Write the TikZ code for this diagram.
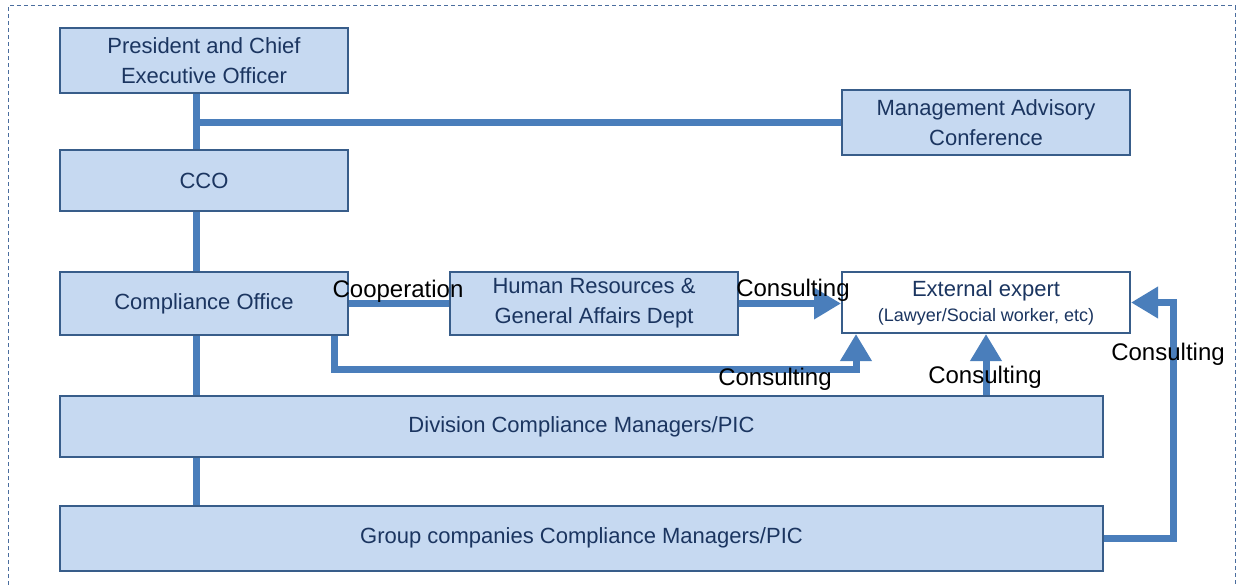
\documentclass[tikz,border=0pt]{standalone}
\usepackage{fontspec}
\setmainfont{Liberation Sans}
\usetikzlibrary{%
  arrows.meta,%
  backgrounds,% wg. on background layer
  calc%
}
\definecolor{boxfill}{HTML}{C6D9F1}
\definecolor{boxline}{HTML}{385D8A}
\definecolor{boxtext}{HTML}{1B3560}
\definecolor{linkblue}{HTML}{4A7EBB}
\definecolor{frameblue}{HTML}{4A6D9E}

\begin{document}
\begin{tikzpicture}[
  x=1pt,y=-1pt,
  font=\fontsize{22}{30}\selectfont,
  box/.style={draw=boxline,fill=boxfill,line width=2pt,text=boxtext,
    align=center,inner sep=0pt,minimum width=288pt},
  widebox/.style={box,minimum width=1043pt},
  link/.style={draw=linkblue,line width=7pt},
  arr/.style={link,-{Triangle[length=27pt,width=30pt]}},
  lbl/.style={font=\fontsize{24}{28}\selectfont,text=black,inner sep=0pt},
]
\useasboundingbox (0,0) rectangle (1246,585);

% dashed frame
\draw[frameblue,line width=1pt,dash pattern=on 4pt off 3pt]
  (8,585) -- (8,6) -- (1235,6) -- (1235,585);

% boxes
\node[box,minimum height=65pt] (pres) at (204,60.5)
  {\raisebox{-2pt}{President and Chief}\\\raisebox{-2pt}{Executive Officer}};
\node[box,minimum height=65pt] (mac) at (986,122.5)
  {Management Advisory\\Conference};
\node[box,minimum height=61pt] (cco) at (204,180.5) {\raisebox{-2pt}{CCO}};
\node[box,minimum height=63pt] (comp) at (204,303.5) {\raisebox{-2pt}{Compliance Office}};
\node[box,minimum height=63pt] (hr) at (594,303.5)
  {Human Resources \&\\General Affairs Dept};
\node[box,fill=white,minimum height=61pt] (ext) at (986,302.5)
  {\raisebox{-5pt}{External expert}\\{\fontsize{18}{26}\selectfont (Lawyer/Social worker, etc)}};
\node[widebox,minimum height=61pt] (div) at (581.5,426.5)
  {\raisebox{-2pt}{Division Compliance Managers/PIC}};
\node[widebox,minimum height=65pt] (grp) at (581.5,538)
  {\raisebox{-2pt}{Group companies Compliance Managers/PIC}};

\coordinate (trunk) at (196,0);
\coordinate (low) at (334,369);
\coordinate (side) at (1173,0);

% connectors
\begin{scope}[on background layer]
\draw[link] (pres.south -| trunk) -- (grp.north -| trunk);
\draw[link] (trunk |- mac.west) -- (mac.west);
\draw[link] (comp.east) -- (hr.west);
\end{scope}
\draw[arr] (hr.east) -- (hr.east -| ext.west);
\draw[arr] (comp.south -| low) -- (low) -| ([xshift=-130pt]ext.south);
\draw[arr] (div.north -| ext.south) -- (ext.south);
\draw[arr] (grp.east) -| (side |- ext.east) -- (ext.east);

% labels
\node[lbl] (lcoop) at (398,291) {Cooperation};
\node[lbl] (lhr) at (793,290) {Consulting};
\node[lbl] (lcomp) at (775,379) {Consulting};
\node[lbl] (ldiv) at (985,377) {Consulting};
\node[lbl] (lgrp) at (1168,354) {Consulting};

\end{tikzpicture}
\end{document}
